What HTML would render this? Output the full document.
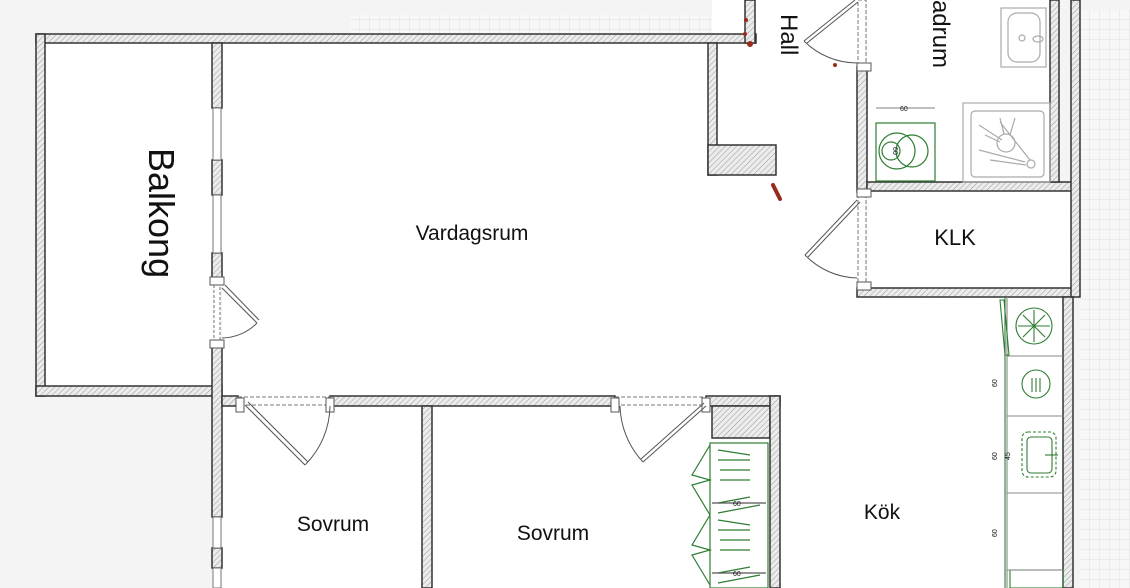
<!DOCTYPE html>
<html><head><meta charset="utf-8"><style>
html,body{margin:0;padding:0;background:#f4f4f4}
svg{display:block}
text{font-family:"Liberation Sans",Arial,sans-serif;fill:#111}
</style></head><body>
<svg width="1130" height="588" viewBox="0 0 1130 588" xmlns="http://www.w3.org/2000/svg">
<defs>
<pattern id="h" width="4" height="4" patternUnits="userSpaceOnUse" patternTransform="rotate(45)">
<rect width="4" height="4" fill="#ececec"/><line x1="0" y1="0" x2="0" y2="4" stroke="#9a9a9a" stroke-width="1"/>
</pattern>
<pattern id="g" width="10" height="10" patternUnits="userSpaceOnUse">
<rect width="10" height="10" fill="#f7f7f7"/><path d="M10 0V10M0 10H10" stroke="#dcdcdc" stroke-width="0.8" fill="none"/>
</pattern>
</defs>
<rect width="1130" height="588" fill="#f4f4f4"/>
<rect x="350" y="15" width="395" height="20" fill="url(#g)"/>
<rect x="1080" y="10" width="50" height="578" fill="url(#g)"/>
<!-- interiors -->
<rect x="45" y="43" width="168" height="344" fill="#fff"/>
<rect x="222" y="43" width="490" height="545" fill="#fff"/>
<rect x="712" y="0" width="150" height="588" fill="#fff"/>
<rect x="776" y="297" width="292" height="291" fill="#fff"/>
<rect x="867" y="0" width="190" height="190" fill="#fff"/>
<rect x="867" y="190" width="205" height="100" fill="#fff"/>
<!-- walls -->
<g fill="url(#h)" stroke="#333" stroke-width="1.5">
<rect x="36" y="34" width="720" height="9"/>
<rect x="745" y="0" width="10" height="43"/>
<rect x="36" y="34" width="9" height="362"/>
<rect x="36" y="386" width="186" height="10"/>
<rect x="212" y="43" width="10" height="65"/>
<rect x="212" y="160" width="10" height="35"/>
<rect x="212" y="253" width="10" height="30"/>
<rect x="212" y="342" width="10" height="175"/>
<rect x="212" y="548" width="10" height="20"/>
<rect x="708" y="43" width="9" height="132"/>
<rect x="708" y="145" width="68" height="30"/>
<rect x="857" y="67" width="10" height="125"/>
<rect x="857" y="288" width="215" height="9"/>
<rect x="867" y="182" width="205" height="9"/>
<rect x="1050" y="0" width="9" height="182"/>
<rect x="1071" y="0" width="9" height="297"/>
<rect x="1063" y="297" width="10" height="291"/>
<rect x="222" y="396" width="16" height="10"/>
<rect x="330" y="396" width="285" height="10"/>
<rect x="706" y="396" width="74" height="10"/>
<rect x="712" y="406" width="58" height="32"/>
<rect x="770" y="396" width="10" height="192"/>
<rect x="422" y="406" width="10" height="182"/>
</g>
<!-- windows -->
<g fill="#fff" stroke="#777" stroke-width="1">
<rect x="213" y="108" width="8" height="52"/><rect x="213" y="195" width="8" height="58"/>
<rect x="213" y="517" width="8" height="31"/><rect x="213" y="568" width="8" height="20"/>
<rect x="214" y="283" width="6" height="59" stroke-dasharray="3 2"/>
<rect x="238" y="397" width="92" height="8" stroke-dasharray="4 2"/>
<rect x="615" y="397" width="91" height="8" stroke-dasharray="4 2"/>
<rect x="858" y="190" width="8" height="98" stroke-dasharray="4 2"/>
<rect x="858" y="0" width="8" height="67" stroke-dasharray="4 2"/>
</g>
<g fill="#fff" stroke="#555" stroke-width="1">
<rect x="210" y="277" width="14" height="8"/><rect x="210" y="340" width="14" height="8"/>
<rect x="236" y="398" width="8" height="14"/><rect x="326" y="398" width="8" height="14"/>
<rect x="611" y="398" width="8" height="14"/><rect x="702" y="398" width="8" height="14"/>
<rect x="857" y="63" width="14" height="8"/><rect x="857" y="189" width="14" height="8"/><rect x="857" y="282" width="14" height="8"/>
</g>
<!-- door swings -->
<g fill="none" stroke="#555" stroke-width="1">
<line x1="222" y1="288" x2="257" y2="323"/><line x1="225" y1="285" x2="259" y2="320"/>
<path d="M257 323 A50 50 0 0 1 222 338"/>
<line x1="245" y1="405" x2="305" y2="465"/><line x1="248" y1="402" x2="308" y2="462"/>
<path d="M305 465 A85 85 0 0 0 330 406"/>
<line x1="706" y1="406" x2="643" y2="462"/><line x1="704" y1="403" x2="641" y2="459"/>
<path d="M643 462 A85 85 0 0 1 620 406"/>
<line x1="857" y1="200" x2="805" y2="255"/><line x1="860" y1="202" x2="808" y2="257"/>
<path d="M805 255 A75 75 0 0 0 857 278"/>
<line x1="855" y1="0" x2="804" y2="41"/><line x1="858" y1="2" x2="807" y2="43"/>
<path d="M804 41 A75 75 0 0 0 857 63"/>
</g>
<!-- red marks -->
<g fill="#9a2a1a"><circle cx="746" cy="20" r="2"/><circle cx="745" cy="34" r="2"/><circle cx="750" cy="44" r="3"/><circle cx="835" cy="65" r="2"/></g>
<line x1="773" y1="185" x2="780" y2="199" stroke="#9a2a1a" stroke-width="4" stroke-linecap="round"/>
<!-- bathroom fixtures -->
<g fill="none" stroke="#aaa" stroke-width="1.2">
<rect x="1001" y="8" width="45" height="59"/><rect x="1008" y="13" width="32" height="49" rx="9"/>
<circle cx="1022" cy="38" r="3"/><ellipse cx="1038" cy="39" rx="5" ry="3"/>
<rect x="963" y="103" width="87" height="79"/><rect x="971" y="111" width="73" height="66" rx="4"/>
<circle cx="1006" cy="143" r="9"/><circle cx="1031" cy="164" r="4"/>
<path d="M979 125L1002 140M985 135L1000 142M1000 118L1004 134M1015 118L1010 135M979 150L1025 162M990 160L1026 165M1000 122L1030 160"/>
</g>
<g fill="none" stroke="#2e7d32" stroke-width="1.2">
<rect x="876" y="123" width="59" height="58"/>
<circle cx="897" cy="151" r="18"/><circle cx="912" cy="151" r="16"/><circle cx="891" cy="151" r="9"/>
</g>
<text x="890" y="150" font-size="7" transform="rotate(90 893 150)">60</text>
<line x1="876" y1="108" x2="935" y2="108" stroke="#555" stroke-width="0.7"/>
<text x="900" y="111" font-size="7">60</text>
<!-- kitchen -->
<g fill="none" stroke="#2e7d32" stroke-width="1.1">
<line x1="1005" y1="297" x2="1005" y2="588"/>
<line x1="1007" y1="297" x2="1007" y2="588" stroke="#888"/>
<path d="M1000 300L1005 355L1009 355L1004 300Z"/>
<circle cx="1034" cy="326" r="18"/><path d="M1034 310V342M1018 326H1050M1023 315L1045 337M1045 315L1023 337"/>
<circle cx="1036" cy="384" r="14"/><path d="M1032 378V392M1036 378V392M1040 378V392"/>
<rect x="1022" y="432" width="34" height="45" rx="6" stroke-dasharray="3 2"/><rect x="1027" y="437" width="25" height="36" rx="4"/>
<path d="M1045 455L1058 455"/>
<rect x="1010" y="570" width="53" height="18"/>
</g>
<g stroke="#888" stroke-width="1" fill="none">
<path d="M1007 356H1063M1007 416H1063M1007 493H1063M1007 570H1063"/>
</g>
<g font-size="7" fill="#333"><text x="995" y="385" transform="rotate(-90 997 385)">60</text><text x="995" y="458" transform="rotate(-90 997 458)">60</text><text x="1008" y="458" transform="rotate(-90 1010 458)">45</text><text x="995" y="535" transform="rotate(-90 997 535)">60</text></g>
<!-- wardrobe -->
<g fill="none" stroke="#2e7d32" stroke-width="1.2">
<rect x="710" y="443" width="58" height="145"/>
<path d="M710 445L692 475L710 480L692 485L710 515L692 545L710 550L692 555L710 585"/>
<path d="M718 450L750 455M718 460L750 460M720 470L750 470M720 480L750 480M718 503L750 497M718 513L760 505"/>
<path d="M718 520L750 525M718 530L750 530M720 540L750 540M720 550L750 550M718 573L750 567M718 583L760 575"/>
<line x1="712" y1="503" x2="766" y2="503" stroke="#555"/>
<line x1="712" y1="573" x2="766" y2="573" stroke="#555"/>
</g>
<g font-size="7" fill="#333"><text x="733" y="506">60</text><text x="733" y="576">60</text></g>
<!-- labels -->
<text x="0" y="0" font-size="36" transform="translate(149,148) rotate(90)">Balkong</text>
<text x="472" y="240" font-size="21" text-anchor="middle">Vardagsrum</text>
<text x="955" y="245" font-size="22" text-anchor="middle">KLK</text>
<text x="0" y="0" font-size="24" transform="translate(781,14) rotate(90)">Hall</text>
<text x="0" y="0" font-size="24" text-anchor="end" transform="translate(933,68) rotate(90)">Badrum</text>
<text x="333" y="531" font-size="21" text-anchor="middle">Sovrum</text>
<text x="553" y="540" font-size="21" text-anchor="middle">Sovrum</text>
<text x="882" y="519" font-size="21" text-anchor="middle">Kök</text>
</svg>
</body></html>
